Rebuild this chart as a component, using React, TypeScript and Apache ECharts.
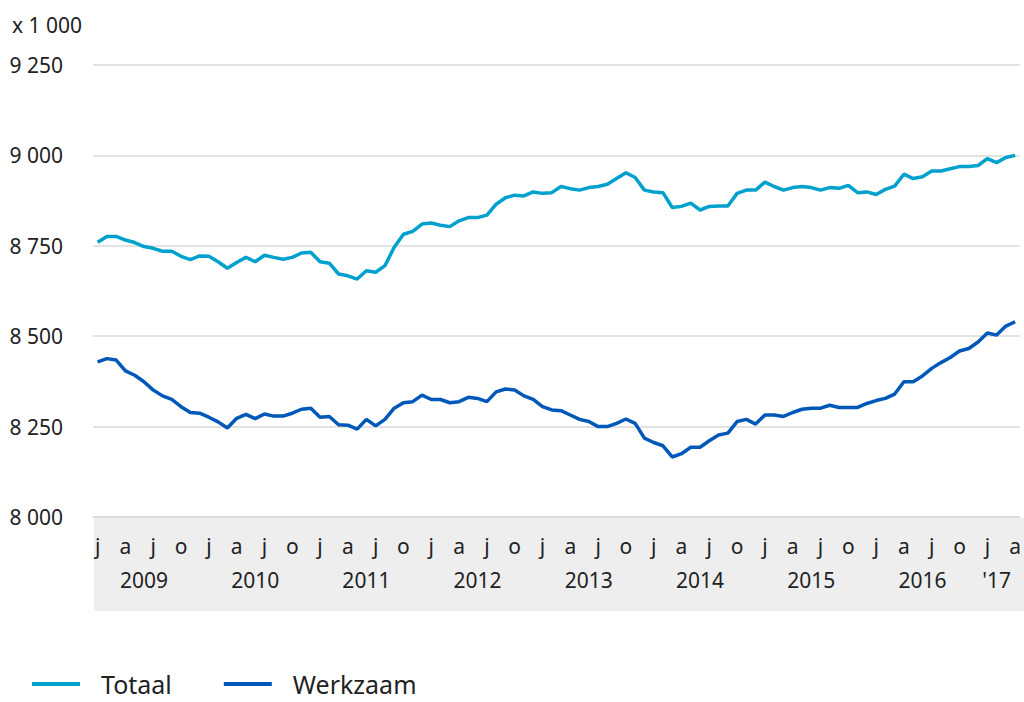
import React, { useEffect, useRef } from "react";
import * as echarts from "echarts";

const startYear = 2009;
const monthCount = 100;
const monthInitials = ["j", "f", "m", "a", "m", "j", "j", "a", "s", "o", "n", "d"];
const yearLabels = ["2009", "2010", "2011", "2012", "2013", "2014", "2015", "2016", "'17"];
const yTicks = [8000, 8250, 8500, 8750, 9000, 9250];
const unitLabel = "x 1 000";

const totaal = [
  8760, 8776, 8776, 8766, 8759, 8748, 8743, 8735, 8735, 8721, 8712, 8722,
  8721, 8706, 8688, 8704, 8718, 8706, 8724, 8718, 8713, 8718, 8730, 8732,
  8706, 8702, 8672, 8667, 8658, 8681, 8677, 8695, 8746, 8782, 8790, 8810,
  8813, 8807, 8803, 8819, 8828, 8828, 8835, 8865, 8883, 8890, 8888, 8899,
  8895, 8897, 8914, 8908, 8904, 8911, 8914, 8920, 8936, 8952, 8939, 8904,
  8899, 8897, 8856, 8859, 8868, 8849, 8859, 8860, 8860, 8895, 8904, 8904,
  8926, 8914, 8904, 8911, 8914, 8911, 8904, 8911, 8909, 8917, 8897, 8899,
  8892, 8906, 8915, 8948, 8936, 8941, 8957, 8957, 8963, 8969, 8969, 8972,
  8991, 8980, 8994, 9000,
];

const werkzaam = [
  8429, 8438, 8434, 8404, 8392, 8374, 8351, 8335, 8325, 8305, 8289, 8287,
  8276, 8263, 8246, 8273, 8284, 8272, 8285, 8279, 8279, 8287, 8298, 8301,
  8276, 8278, 8255, 8254, 8243, 8270, 8252, 8270, 8301, 8316, 8319, 8337,
  8325, 8325, 8316, 8319, 8331, 8328, 8319, 8346, 8354, 8351, 8335, 8325,
  8305, 8296, 8294, 8282, 8270, 8264, 8250, 8250, 8259, 8271, 8259, 8218,
  8206, 8197, 8166, 8175, 8193, 8193, 8211, 8227, 8232, 8264, 8270, 8257,
  8282, 8282, 8278, 8289, 8298, 8301, 8301, 8309, 8303, 8303, 8303, 8314,
  8322, 8328, 8340, 8374, 8374, 8390, 8411, 8427, 8441, 8459, 8466, 8484,
  8509, 8503, 8528, 8540,
];

const categories: string[] = [];
for (let i = 0; i < monthCount; i++) {
  const y = startYear + Math.floor(i / 12);
  const m = (i % 12) + 1;
  categories.push(`${y}-${m < 10 ? "0" + m : m}`);
}

// index of the middle month of each year present -> year label
const yearLabelAt: Record<number, string> = {};
yearLabels.forEach((lab, k) => {
  const first = k * 12;
  const last = Math.min(first + 11, monthCount - 1);
  yearLabelAt[Math.floor((first + last) / 2)] = lab;
});

const FONT = "'Noto Sans', 'Open Sans', sans-serif";
const TXT = "#222222";

export default function App() {
  const ref = useRef<HTMLDivElement>(null);
  useEffect(() => {
    if (!ref.current) return;
    const chart = echarts.init(ref.current, null, { renderer: "svg" });
    chart.setOption({
      animation: false,
      textStyle: { fontFamily: FONT },
      grid: { left: 93, top: 65, width: 933, height: 452, containLabel: false },
      graphic: [
        {
          type: "rect",
          z: -10,
          shape: { x: 94, y: 518, width: 940, height: 93 },
          style: { fill: "#eeeeee" },
          silent: true,
        },
        {
          type: "text",
          left: 12,
          top: 14,
          style: { text: unitLabel, fill: TXT, font: `21px ${FONT}` },
        },
      ],
      legend: {
        left: 27,
        top: 666,
        icon: "rect",
        itemWidth: 48,
        itemHeight: 4,
        itemGap: 52,
        textStyle: {
          fontSize: 25,
          lineHeight: 26,
          color: TXT,
          fontFamily: FONT,
          padding: [0, 0, 0, 16],
        },
        data: ["Totaal", "Werkzaam"],
      },
      xAxis: [
        {
          type: "category",
          data: categories,
          boundaryGap: true,
          axisLine: { show: true, lineStyle: { color: "#d9d9d9", width: 1.5 } },
          axisTick: { show: false },
          axisLabel: {
            interval: 2,
            margin: 18,
            fontSize: 21,
            color: TXT,
            fontFamily: FONT,
            formatter: (v: string) => monthInitials[parseInt(v.slice(5), 10) - 1],
          },
        },
        {
          type: "category",
          data: categories,
          boundaryGap: true,
          position: "bottom",
          offset: 0,
          axisLine: { show: false },
          axisTick: { show: false },
          axisLabel: {
            interval: (index: number) => yearLabelAt[index] !== undefined,
            margin: 52,
            fontSize: 21,
            color: TXT,
            fontFamily: FONT,
            formatter: (_v: string, index: number) => yearLabelAt[index] ?? "",
          },
        },
      ],
      yAxis: {
        type: "value",
        min: yTicks[0],
        max: yTicks[yTicks.length - 1],
        interval: 250,
        axisLine: { show: false },
        axisTick: { show: false },
        splitLine: { lineStyle: { color: "#d9d9d9", width: 1.5 } },
        axisLabel: {
          margin: 30,
          fontSize: 21,
          color: TXT,
          fontFamily: FONT,
          formatter: (v: number) => {
            const s = String(v);
            return s.length > 3 ? s.slice(0, s.length - 3) + " " + s.slice(-3) : s;
          },
        },
      },
      series: [
        {
          name: "Totaal",
          type: "line",
          data: totaal,
          xAxisIndex: 0,
          showSymbol: false,
          symbol: "none",
          itemStyle: { color: "#00a1cd" },
          lineStyle: { color: "#00a1cd", width: 3.5 },
        },
        {
          name: "Werkzaam",
          type: "line",
          data: werkzaam,
          xAxisIndex: 0,
          showSymbol: false,
          symbol: "none",
          itemStyle: { color: "#0058b8" },
          lineStyle: { color: "#0058b8", width: 3.5 },
        },
      ],
    });
    return () => chart.dispose();
  }, []);
  return (
    <div
      ref={ref}
      style={{ position: "fixed", left: 0, top: 0, width: 1024, height: 702, background: "#ffffff" }}
    />
  );
}
